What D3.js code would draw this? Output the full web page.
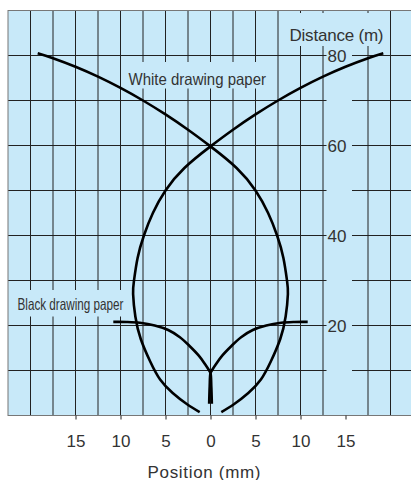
<!DOCTYPE html>
<html>
<head>
<meta charset="utf-8">
<script src="https://cdn.jsdelivr.net/npm/d3@7"></script>
<style>
  html, body { margin: 0; padding: 0; background: #ffffff; }
  svg { display: block; }
  text { font-family: "Liberation Sans", Arial, Helvetica, sans-serif; fill: #333; }
</style>
</head>
<body>
<svg id="chart" width="411" height="480"></svg>
<script>
// ---- data (Position in mm, Distance in m) ----
const xTickValues = [-15, -10, -5, 0, 5, 10, 15];
const yTickValues = [20, 40, 60, 80];
const xGridValues = [-20, -17.5, -15, -12.5, -10, -7.5, -5, -2.5, 0, 2.5, 5, 7.5, 10, 12.5, 17.5, 20];
const yGridValues = [10, 20, 30, 40, 50, 60, 70, 80];

// White drawing paper: curve starting top-left, ending bottom-right
const whiteLeftStartX = [-19.2, -17.5, -15, -12.5, -10, -7.5, -5, -2.5, 0, 2.9, 5.0, 6.4, 7.4, 8.1, 8.5, 8.6, 8.35, 7.75, 6.7, 5.6, 4.2, 2.6, 1.2];
const whiteLeftStartY = [80.5, 79.4, 77.5, 75.3, 72.8, 70.0, 66.9, 63.5, 59.8, 55.0, 50.0, 45.0, 40.0, 35.0, 30.0, 27.0, 22.0, 17.0, 12.0, 8.0, 5.0, 2.5, 0.75];
// White drawing paper: curve starting top-right, ending bottom-left
const whiteRightStartX = [19.2, 17.5, 15, 12.5, 10, 7.5, 5, 2.5, 0, -2.9, -5.0, -6.4, -7.4, -8.1, -8.5, -8.6, -8.35, -7.75, -6.7, -5.6, -4.2, -2.6, -1.2];
const whiteRightStartY = [80.5, 79.4, 77.5, 75.3, 72.8, 70.0, 66.9, 63.5, 59.8, 55.0, 50.0, 45.0, 40.0, 35.0, 30.0, 27.0, 22.0, 17.0, 12.0, 8.0, 5.0, 2.5, 0.75];

// Black drawing paper: left and right curves meeting at the cusp
const blackLeftX = [-10.8, -9.3, -7.85, -6.2, -4.7, -3.4, -2.3, -1.3, -0.6, -0.15, 0, 0.09, 0.15];
const blackLeftY = [20.8, 20.78, 20.6, 20.0, 19.0, 17.4, 15.4, 13.3, 11.4, 10.0, 9.4, 6.5, 2.6];
const blackRightX = [10.8, 9.3, 7.85, 6.2, 4.7, 3.4, 2.3, 1.3, 0.6, 0.15, 0, -0.09, -0.15];
const blackRightY = [20.8, 20.78, 20.6, 20.0, 19.0, 17.4, 15.4, 13.3, 11.4, 10.0, 9.4, 6.5, 2.6];

const xTitle = "Position (mm)";
const yTitle = "Distance (m)";
const whiteLabel = "White drawing paper";
const blackLabel = "Black drawing paper";

// ---- layout ----
const svg = d3.select("#chart");
const x = d3.scaleLinear().domain([-22.5, 22.5]).range([8, 413]);
const y = d3.scaleLinear().domain([0, 90]).range([415.5, 10.5]);

const plotBg = "#c8e9f9";
const gridColor = "#222";

// plot background
svg.append("rect")
  .attr("x", x(-22.5)).attr("y", y(90))
  .attr("width", x(22.5) - x(-22.5)).attr("height", y(0) - y(90))
  .attr("fill", plotBg);

// vertical grid
svg.append("g").selectAll("line").data(xGridValues).join("line")
  .attr("x1", d => x(d)).attr("x2", d => x(d))
  .attr("y1", y(90)).attr("y2", y(0))
  .attr("stroke", gridColor).attr("stroke-width", 1);

// horizontal grid (broken where the distance labels sit)
const gapLeft = x(12.5) + 3.5, gapRight = x(15) + 6.5;
const hg = svg.append("g");
hg.selectAll("line.a").data(yGridValues).join("line").attr("class", "a")
  .attr("x1", x(-22.5)).attr("x2", gapLeft)
  .attr("y1", d => y(d)).attr("y2", d => y(d))
  .attr("stroke", gridColor).attr("stroke-width", 1);
hg.selectAll("line.b").data(yGridValues).join("line").attr("class", "b")
  .attr("x1", gapRight).attr("x2", x(22.5))
  .attr("y1", d => y(d)).attr("y2", d => y(d))
  .attr("stroke", gridColor).attr("stroke-width", 1);

// plot border
svg.append("rect")
  .attr("x", x(-22.5)).attr("y", y(90))
  .attr("width", x(22.5) - x(-22.5)).attr("height", y(0) - y(90))
  .attr("fill", "none").attr("stroke", "#777").attr("stroke-width", 1);

// label backgrounds (hide gridlines behind labels)
const bgs = [
  {x: 287, y: 13, w: 99, h: 33},
  {x: 124, y: 62, w: 149, h: 26.5},
  {x: 10, y: 290, w: 117, h: 26.5}
];
svg.append("g").selectAll("rect").data(bgs).join("rect")
  .attr("x", d => d.x).attr("y", d => d.y).attr("width", d => d.w).attr("height", d => d.h)
  .attr("fill", plotBg);

// curves
const whiteLine = d3.line().x(d => x(d[0])).y(d => y(d[1])).curve(d3.curveNatural);
const blackLine = d3.line().x(d => x(d[0])).y(d => y(d[1])).curve(d3.curveCatmullRom.alpha(0.5));
const whiteCurves = [
  d3.zip(whiteLeftStartX, whiteLeftStartY),
  d3.zip(whiteRightStartX, whiteRightStartY)
];
const blackCurves = [
  d3.zip(blackLeftX, blackLeftY),
  d3.zip(blackRightX, blackRightY)
];
svg.append("g").selectAll("path").data(whiteCurves).join("path")
  .attr("d", whiteLine)
  .attr("fill", "none").attr("stroke", "#000").attr("stroke-width", 2.6)
  .attr("stroke-linejoin", "round");
svg.append("g").selectAll("path").data(blackCurves).join("path")
  .attr("d", blackLine)
  .attr("fill", "none").attr("stroke", "#000").attr("stroke-width", 2.6)
  .attr("stroke-linejoin", "round");

// x axis
const xAxis = svg.append("g").attr("transform", `translate(0,${y(0)})`)
  .call(d3.axisBottom(x).tickValues(xTickValues).tickFormat(d => Math.abs(d)).tickSize(4).tickPadding(15));
xAxis.select(".domain").remove();
xAxis.selectAll(".tick line").attr("stroke", gridColor);
xAxis.selectAll(".tick text").attr("fill", "#333").style("font-size", "17px")
  .attr("font-family", null);

// y axis labels
const yAxis = svg.append("g").attr("transform", `translate(${x(12.5)},0)`)
  .call(d3.axisRight(y).tickValues(yTickValues).tickSize(0).tickPadding(4.5));
yAxis.select(".domain").remove();
yAxis.selectAll(".tick text").attr("fill", "#333").style("font-size", "17px")
  .attr("font-family", null).attr("dy", "0.36em");

// titles
svg.append("text").attr("x", x(0) - 6.5).attr("y", 477.5)
  .attr("text-anchor", "middle").style("font-size", "17px")
  .attr("textLength", 113).text(xTitle);
svg.append("text").attr("x", 383.5).attr("y", 40.5)
  .attr("text-anchor", "end").style("font-size", "17px")
  .attr("textLength", 94).text(yTitle);

// series labels
svg.append("text").attr("x", 128.5).attr("y", 84.5)
  .style("font-size", "16.5px")
  .attr("textLength", 137.5).attr("lengthAdjust", "spacingAndGlyphs").text(whiteLabel);
svg.append("text").attr("x", 17.5).attr("y", 310)
  .style("font-size", "16.5px")
  .attr("textLength", 106).attr("lengthAdjust", "spacingAndGlyphs").text(blackLabel);
</script>
</body>
</html>
